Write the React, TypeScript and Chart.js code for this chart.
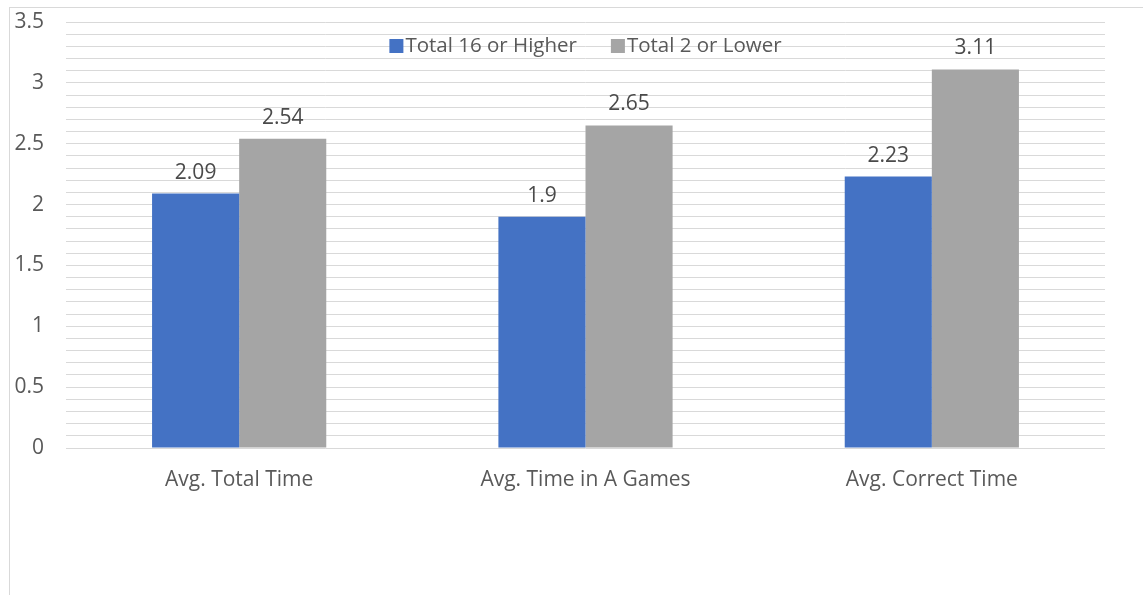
import React, { useEffect, useRef } from "react";
import { Chart, registerables } from "chart.js";

Chart.register(...registerables);

const categories = ["Avg. Total Time", "Avg. Time in A Games", "Avg. Correct Time"];
const seriesNames = ["Total 16 or Higher", "Total 2 or Lower"];
const high16 = [2.09, 1.9, 2.23];
const low2 = [2.54, 2.65, 3.11];
const seriesColors = ["#4472C4", "#A5A5A5"];
const yMax = 3.5;
const minorSteps = 35; // gridlines every 0.1
const FONT = "'Open Sans', sans-serif";
const FS = 21;

const framePlugin = {
  id: "frame",
  beforeDraw(chart: any) {
    const ctx = chart.ctx;
    ctx.save();
    ctx.fillStyle = "#ffffff";
    ctx.fillRect(0, 0, chart.width, chart.height);
    ctx.strokeStyle = "#d9d9d9";
    ctx.lineWidth = 1;
    ctx.strokeRect(9.5, 7.5, chart.width + 20, chart.height + 20);
    ctx.restore();
  },
};

const valueLabelPlugin = {
  id: "valueLabels",
  afterDatasetsDraw(chart: any) {
    const ctx = chart.ctx;
    ctx.save();
    ctx.font = `${FS}px ${FONT}`;
    ctx.fillStyle = "#4a4a4a";
    ctx.textAlign = "center";
    ctx.textBaseline = "middle";
    chart.data.datasets.forEach((ds: any, di: number) => {
      const meta = chart.getDatasetMeta(di);
      meta.data.forEach((bar: any, i: number) => {
        ctx.fillText(String(ds.data[i]), bar.x, bar.y - 21);
      });
    });
    ctx.restore();
  },
};

const legendPlugin = {
  id: "customLegend",
  afterDraw(chart: any) {
    const ctx = chart.ctx;
    const area = chart.chartArea;
    ctx.save();
    ctx.font = `20.5px ${FONT}`;
    ctx.textBaseline = "middle";
    const box = 14;
    const gap = 2;
    const itemGap = 34;
    const widths = chart.data.datasets.map((d: any) => ctx.measureText(d.label).width);
    const total = widths.reduce((a: number, w: number) => a + box + gap + w, 0) + itemGap * (widths.length - 1);
    let x = (area.left + area.right) / 2 - total / 2;
    const y = 46;
    chart.data.datasets.forEach((d: any, i: number) => {
      ctx.fillStyle = d.backgroundColor;
      ctx.fillRect(x, y - box / 2, box, box);
      ctx.fillStyle = "#595959";
      ctx.textAlign = "left";
      ctx.fillText(d.label, x + box + gap, y);
      x += box + gap + widths[i] + itemGap;
    });
    ctx.restore();
  },
};

export default function App() {
  const ref = useRef<HTMLCanvasElement>(null);
  useEffect(() => {
    if (!ref.current) return;
    const chart = new Chart(ref.current, {
      type: "bar",
      data: {
        labels: categories,
        datasets: [
          { label: seriesNames[0], data: high16, backgroundColor: seriesColors[0] },
          { label: seriesNames[1], data: low2, backgroundColor: seriesColors[1] },
        ],
      },
      options: {
        animation: false,
        responsive: false,
        maintainAspectRatio: false,
        layout: { padding: { top: 22, right: 38, left: 0, bottom: 0 } },
        datasets: { bar: { categoryPercentage: 0.503, barPercentage: 1 } },
        plugins: { legend: { display: false }, tooltip: { enabled: false } },
        scales: {
          x: {
            grid: { display: false, drawTicks: false },
            border: { display: false },
            ticks: { color: "#595959", font: { family: FONT, size: FS }, padding: 19 },
            afterFit: (s: any) => { s.height = 147; },
          },
          y: {
            min: 0,
            max: yMax,
            grid: { color: "#d9d9d9", lineWidth: 1, drawTicks: false },
            border: { display: false },
            afterBuildTicks: (s: any) => {
              const t = [];
              for (let i = 0; i <= minorSteps; i++) t.push({ value: Math.round(i * yMax * 1000 / minorSteps) / 1000 });
              s.ticks = t;
            },
            ticks: {
              autoSkip: false,
              color: "#595959",
              font: { family: FONT, size: FS },
              padding: 22,
              callback: (v: any) => {
                const n = Number(v);
                return Math.abs(n * 2 - Math.round(n * 2)) < 1e-6 ? String(n) : "";
              },
            },
            afterFit: (s: any) => {
              s.width = 66;
              s.paddingTop = 0;
              s.paddingBottom = 0;
            },
          },
        },
      },
      plugins: [framePlugin, valueLabelPlugin, legendPlugin],
    });
    return () => chart.destroy();
  }, []);
  return (
    <div style={{ position: "fixed", left: 0, top: 0, width: 1143, height: 595 }}>
      <canvas ref={ref} width={1143} height={595} style={{ width: 1143, height: 595 }} />
    </div>
  );
}
